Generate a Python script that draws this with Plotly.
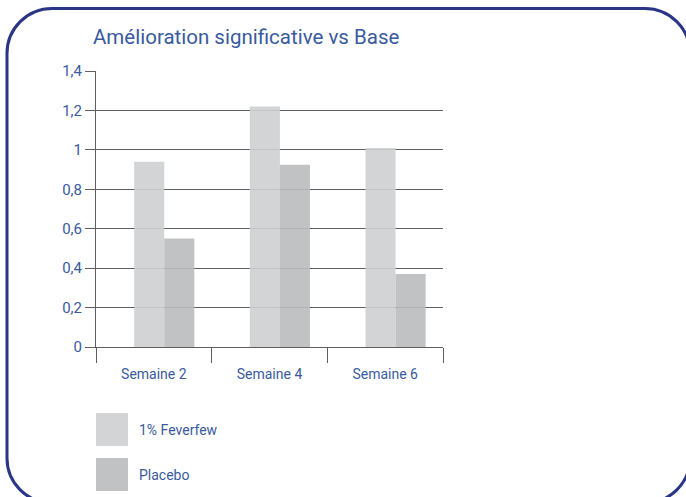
import plotly.graph_objects as go

categories = ["Semaine 2", "Semaine 4", "Semaine 6"]
series_names = ["1% Feverfew", "Placebo"]
feverfew = [0.94, 1.22, 1.01]
placebo = [0.55, 0.925, 0.37]
y_tickvals = [0, 0.2, 0.4, 0.6, 0.8, 1.0, 1.2, 1.4]
y_ticktext = ["0", "0,2", "0,4", "0,6", "0,8", "1", "1,2", "1,4"]
title_text = "Amélioration significative vs Base"

W, H = 686, 497
ML, MR, MT, MB = 96, 243, 71, 150
PW, PH = W - ML - MR, H - MT - MB

BLUE = "#3a5a9e"
FRAME = "#2a3585"
GRID = "#5f5f5f"
COL_F = "rgba(205,207,209,0.9)"
COL_P = "rgba(186,187,189,0.9)"
FONT = "Roboto"


def px(x):
    return (x - ML) / PW


def py(y):
    return (MT + PH - y) / PH


fig = go.Figure()
fig.add_trace(go.Bar(x=categories, y=feverfew, name=series_names[0],
                     marker=dict(color=COL_F, line=dict(width=0)),
                     width=0.26, offset=-0.17, showlegend=False))
fig.add_trace(go.Bar(x=categories, y=placebo, name=series_names[1],
                     marker=dict(color=COL_P, line=dict(width=0)),
                     width=0.26, offset=0.09, showlegend=False))

# rounded frame (pixel coords converted to paper)
x0, y0, x1, y1, r = 7, 8.5, 690, 503, 45
k = 0.5523 * r
pts = [
    ("M", [(x0 + r, y0)]),
    ("L", [(x1 - r, y0)]),
    ("C", [(x1 - r + k, y0), (x1, y0 + r - k), (x1, y0 + r)]),
    ("L", [(x1, y1 - r)]),
    ("C", [(x1, y1 - r + k), (x1 - r + k, y1), (x1 - r, y1)]),
    ("L", [(x0 + r, y1)]),
    ("C", [(x0 + r - k, y1), (x0, y1 - r + k), (x0, y1 - r)]),
    ("L", [(x0, y0 + r)]),
    ("C", [(x0, y0 + r - k), (x0 + r - k, y0), (x0 + r, y0)]),
]
path = ""
for cmd, ps in pts:
    path += cmd + " " + " ".join(f"{px(a):.5f},{py(b):.5f}" for a, b in ps) + " "
path += "Z"

shapes = [dict(type="path", path=path, xref="paper", yref="paper",
               line=dict(color=FRAME, width=3), fillcolor="rgba(0,0,0,0)", layer="above")]

# legend swatches
legend_cols = [COL_F, COL_P]
legend_tops = [413, 458]
annotations = []
for name, col, top in zip(series_names, legend_cols, legend_tops):
    shapes.append(dict(type="rect", xref="paper", yref="paper",
                       x0=px(96), x1=px(128), y0=py(top + 33), y1=py(top),
                       fillcolor=col, line=dict(width=0)))
    annotations.append(dict(text=name, xref="paper", yref="paper",
                            x=px(137), y=py(top + 17), xanchor="left", yanchor="middle",
                            showarrow=False, font=dict(family=FONT, size=14, color=BLUE)))

annotations.append(dict(text=title_text, xref="paper", yref="paper",
                        x=px(91), y=py(37), xanchor="left", yanchor="middle",
                        showarrow=False, font=dict(family=FONT, size=20.5, color=BLUE)))

fig.update_layout(
    width=W, height=H,
    margin=dict(l=ML, r=MR, t=MT, b=MB, pad=0),
    paper_bgcolor="white", plot_bgcolor="white",
    barmode="group",
    shapes=shapes, annotations=annotations,
    font=dict(family=FONT, color=BLUE),
    xaxis=dict(range=[-0.5, 2.5], tickson="boundaries", ticks="outside", ticklen=15,
               tickcolor=GRID, tickwidth=1, showgrid=False, showline=True,
               linecolor=GRID, linewidth=1, tickfont=dict(size=14, color=BLUE),
               ticklabelstandoff=14, fixedrange=True),
    yaxis=dict(range=[0, 1.4], tickvals=y_tickvals, ticktext=y_ticktext,
               ticks="outside", ticklen=10, tickcolor=GRID, tickwidth=1,
               showgrid=True, gridcolor=GRID, gridwidth=1, zeroline=False,
               showline=True, linecolor=GRID, linewidth=1,
               tickfont=dict(size=15, color=BLUE), fixedrange=True),
)

fig.write_html("out.html", config={"displayModeBar": False},
               post_script="document.body.style.margin='0';document.body.style.overflow='hidden';")
